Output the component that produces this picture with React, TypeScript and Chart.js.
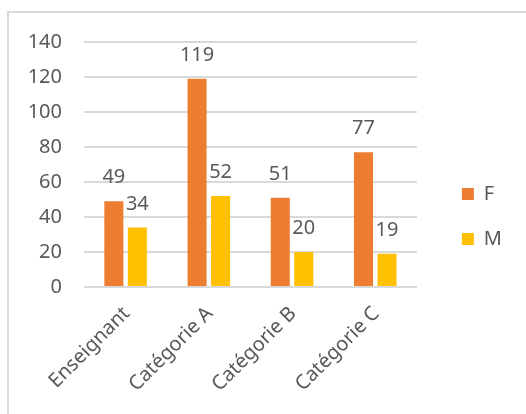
import React, { useEffect, useRef } from "react";
import { Chart, registerables } from "chart.js";

Chart.register(...registerables);

const categories = ["Enseignant", "Catégorie A", "Catégorie B", "Catégorie C"];
const seriesF = [49, 119, 51, 77];
const seriesM = [34, 52, 20, 19];
const seriesNames = ["F", "M"];
const yMin = 0;
const yMax = 140;
const yStep = 20;

const TEXT = "#595959";
const GRID = "#d9d9d9";
const FONT = '"Noto Sans", "Open Sans", sans-serif';

const valueLabels = {
  id: "valueLabels",
  afterDatasetsDraw(chart: any) {
    const ctx = chart.ctx;
    ctx.save();
    ctx.font = `20px ${FONT}`;
    ctx.fillStyle = TEXT;
    ctx.textAlign = "center";
    ctx.textBaseline = "alphabetic";
    chart.data.datasets.forEach((ds: any, i: number) => {
      const meta = chart.getDatasetMeta(i);
      meta.data.forEach((el: any, j: number) => {
        ctx.fillText(String(ds.data[j]), el.x, el.y - 18);
      });
    });
    ctx.restore();
  },
};

export default function App() {
  const ref = useRef<HTMLCanvasElement | null>(null);

  useEffect(() => {
    if (!ref.current) return;
    const chart = new Chart(ref.current, {
      type: "bar",
      data: {
        labels: categories,
        datasets: [
          {
            label: seriesNames[0],
            data: seriesF,
            backgroundColor: "#ED7D31",
            borderWidth: 0,
            yAxisID: "y",
            categoryPercentage: 0.565,
            barPercentage: 0.81,
          },
          {
            label: seriesNames[1],
            data: seriesM,
            backgroundColor: "#FFC000",
            borderWidth: 0,
            yAxisID: "y",
            categoryPercentage: 0.565,
            barPercentage: 0.81,
          },
        ],
      },
      options: {
        responsive: false,
        animation: false,
        devicePixelRatio: 1,
        layout: { padding: { top: 42, bottom: 23, left: 0, right: 14 } },
        plugins: {
          tooltip: { enabled: false },
          legend: {
            position: "right",
            labels: {
              boxWidth: 12,
              boxHeight: 12,
              padding: 25,
              color: TEXT,
              font: { size: 20, family: FONT },
            },
          },
        },
        scales: {
          x: {
            grid: { display: false, drawTicks: false },
            border: { display: false },
            ticks: {
              color: TEXT,
              font: { size: 20, family: FONT },
              minRotation: 45,
              maxRotation: 45,
              padding: 15,
              labelOffset: 1,
            },
            afterFit(scale: any) {
              scale.height = 104;
            },
          },
          y: {
            position: "left",
            min: yMin,
            max: yMax,
            grid: { color: GRID, lineWidth: 2, drawTicks: false },
            border: { display: false },
            ticks: {
              stepSize: yStep,
              color: TEXT,
              font: { size: 20, family: FONT },
              padding: 22,
            },
            afterFit(scale: any) {
              scale.width = 84;
            },
          },
          y2: {
            position: "right",
            display: true,
            grid: { display: false, drawTicks: false },
            border: { display: false },
            ticks: { display: false },
            afterFit(scale: any) {
              scale.width = 20;
            },
          },
        },
      },
      plugins: [valueLabels],
    });
    return () => chart.destroy();
  }, []);

  return (
    <div
      style={{
        position: "fixed",
        left: 0,
        top: 0,
        width: 526,
        height: 414,
        overflow: "hidden",
        background: "#fff",
      }}
    >
      <div
        style={{
          position: "absolute",
          left: 7,
          top: 11,
          width: 700,
          height: 600,
          border: `2px solid ${GRID}`,
        }}
      />
      <canvas
        ref={ref}
        width={526}
        height={414}
        style={{ position: "absolute", left: 0, top: 0, width: 526, height: 414 }}
      />
    </div>
  );
}
